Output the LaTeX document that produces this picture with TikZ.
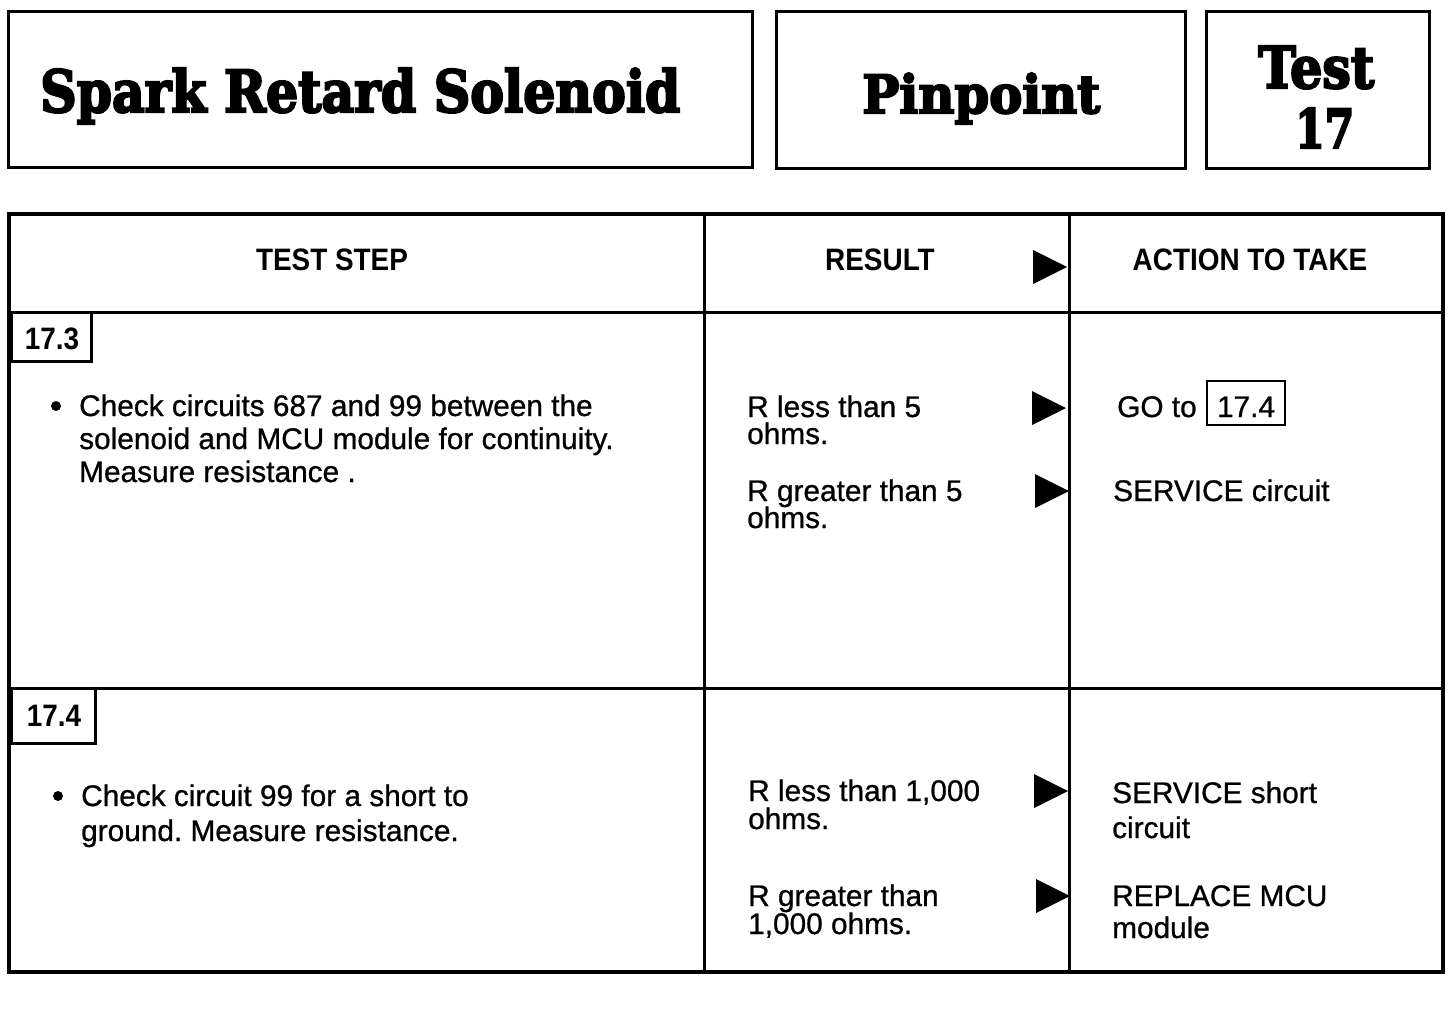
\documentclass[tikz,border=0pt]{standalone}
\usepackage{fontspec}
\usepackage{graphicx}
\setmainfont{Liberation Sans}[FakeBold=0.8]
\newfontfamily\hfont[FakeStretch=0.9]{Liberation Sans}
\newfontfamily\tfont[BoldFeatures={FakeBold=4}]{DejaVu Serif}
\frenchspacing
\begin{document}
\begin{tikzpicture}[x=1pt,y=-1pt,
  frame/.style={draw=black, line width=3pt},
  thin/.style={draw=black, line width=2pt},
  body/.style={font=\fontsize{29.8}{33}\selectfont, inner sep=0pt, anchor=base west},
  head/.style={font=\hfont\bfseries\fontsize{31}{31}\selectfont, inner sep=0pt, anchor=base},
  tag/.style={font=\hfont\bfseries\fontsize{31}{31}\selectfont, inner sep=0pt, anchor=base},
  ttl/.style={inner sep=0pt, anchor=base west},
  tri/.pic={\fill[black] (0,-17) -- (34,0) -- (0,17) -- cycle;},
  dot/.style={circle, fill=black, inner sep=0pt, minimum size=10pt}
]
\useasboundingbox (0,0) rectangle (1456,1018);
% title boxes
\draw[frame] (8,11) rectangle (752,167);
\draw[frame] (776,11) rectangle (1185,168);
\draw[frame] (1206,11) rectangle (1429,168);
\node[ttl] (t1) at (40,112) {\resizebox{640pt}{44pt}{\tfont\bfseries Spark Retard Solenoid}};
\node[ttl] (t2) at (862,113) {\resizebox{238pt}{40pt}{\tfont\bfseries Pinpoint}};
\node[ttl] (t3) at (1258,88) {\resizebox{116pt}{42pt}{\tfont\bfseries Test}};
\node[ttl] (t4) at (1295,148) {\resizebox{59pt}{40pt}{\tfont\bfseries 17}};
% table
\draw[frame, line width=3.5pt] (9,214) rectangle (1443,972);
\draw[frame] (9,312) -- (1443,312);
\draw[frame] (9,688) -- (1443,688);
\draw[frame] (704,214) -- (704,972);
\draw[frame] (1069,214) -- (1069,972);
% headers
\node[head] (h1) at (332,270) {TEST STEP};
\node[head] (h2) at (880,270) {RESULT};
\node[head] (h3) at (1250,270) {ACTION TO TAKE};
\pic at (1033,267) {tri};
% tags
\draw[frame] (11,312) rectangle (91,361);
\node[tag] (g1) at (52,349) {17.3};
\draw[frame] (11,688) rectangle (95,743);
\node[tag] (g2) at (54,726) {17.4};
% row 1
\node[dot] (b1) at (56,406) {};
\node[body] (s1a) at (79,416) {Check circuits 687 and 99 between the};
\node[body] (s1b) at (79,449) {solenoid and MCU module for continuity.};
\node[body] (s1c) at (79,482) {Measure resistance .};
\node[body] (r1a) at (747,417) {R less than 5};
\node[body] (r1b) at (747,444) {ohms.};
\node[body] (r1c) at (747,501) {R greater than 5};
\node[body] (r1d) at (747,528) {ohms.};
\pic at (1032,408) {tri};
\pic at (1035,491) {tri};
\node[body] (a1a) at (1117,417) {GO to};
\draw[thin] (1207,381) rectangle (1285,425);
\node[body, anchor=base] (a1b) at (1246,417) {17.4};
\node[body] (a1c) at (1113,501) {SERVICE circuit};
% row 2
\node[dot] (b2) at (58,796) {};
\node[body] (s2a) at (81,806) {Check circuit 99 for a short to};
\node[body] (s2b) at (81,841) {ground. Measure resistance.};
\node[body] (r2a) at (748,801) {R less than 1,000};
\node[body] (r2b) at (748,829) {ohms.};
\node[body] (r2c) at (748,906) {R greater than};
\node[body] (r2d) at (748,934) {1,000 ohms.};
\pic at (1034,791) {tri};
\pic at (1036,896) {tri};
\node[body] (a2a) at (1112,803) {SERVICE short};
\node[body] (a2b) at (1112,838) {circuit};
\node[body] (a2c) at (1112,906) {REPLACE MCU};
\node[body] (a2d) at (1112,938) {module};
\end{tikzpicture}
\end{document}
